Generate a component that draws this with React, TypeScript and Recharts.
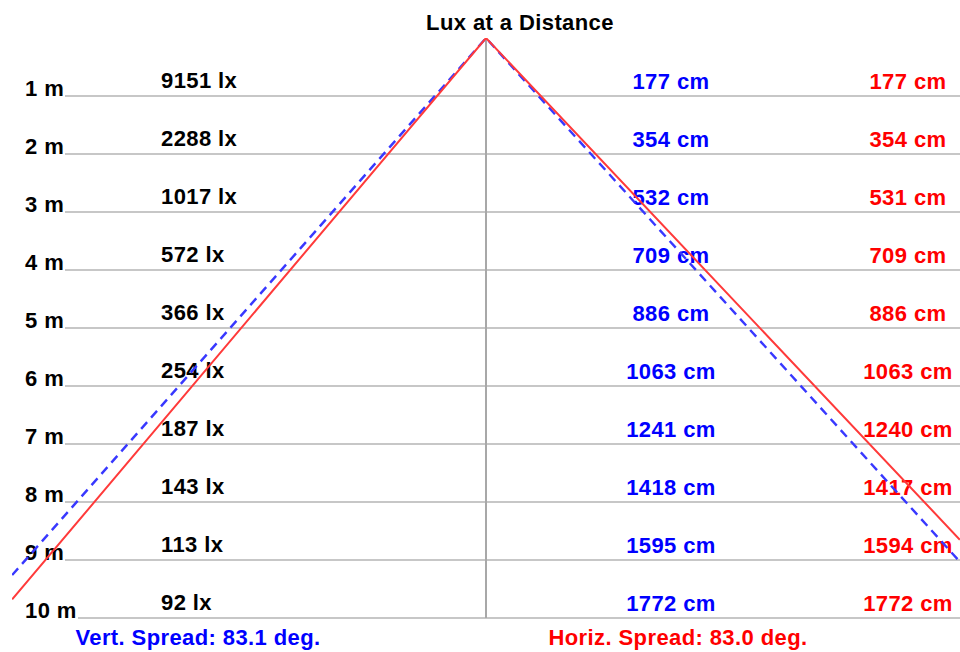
import { LineChart, Line, XAxis, YAxis, ReferenceLine, Customized } from 'recharts';

/* ------------------------------------------------------------------ */
/*  data                                          */
/* ------------------------------------------------------------------ */
const distances = [1, 2, 3, 4, 5, 6, 7, 8, 9, 10];
const distanceLabels = ['1 m', '2 m', '3 m', '4 m', '5 m', '6 m', '7 m', '8 m', '9 m', '10 m'];
const luxLabels = ['9151 lx', '2288 lx', '1017 lx', '572 lx', '366 lx', '254 lx', '187 lx', '143 lx', '113 lx', '92 lx'];
const vertWidths = ['177 cm', '354 cm', '532 cm', '709 cm', '886 cm', '1063 cm', '1241 cm', '1418 cm', '1595 cm', '1772 cm'];
const horizWidths = ['177 cm', '354 cm', '531 cm', '709 cm', '886 cm', '1063 cm', '1240 cm', '1417 cm', '1594 cm', '1772 cm'];
const vertSpread = '83.1';
const horizSpread = '83.0';

// beam edges: x = metres left/right of the axis, y = distance in metres
const horizBeam = [
  { x: -8.17, y: 9.68 },
  { x: 0, y: 0 },
  { x: 8.17, y: 8.65 },
];
const vertBeam = [
  { x: -8.17, y: 9.26 },
  { x: 0, y: 0 },
  { x: 8.17, y: 9.03 },
];

/* ------------------------------------------------------------------ */
/*  layout                                                             */
/* ------------------------------------------------------------------ */
const W = 960;
const H = 652;
const AXIS_X = 486;
const PX_PER_M = 58;
const HALF_SPAN = (AXIS_X - 12) / PX_PER_M;
const FONT = '"Liberation Sans", Arial, sans-serif';

const textStyle = {
  fontFamily: FONT,
  fontSize: 22,
  fontWeight: 700,
  letterSpacing: 0.4,
} as const;

const toData = (px: number) => (px - AXIS_X) / PX_PER_M;

function RowText({ viewBox, idx }: { viewBox?: any; idx: number }) {
  if (!viewBox) return null;
  const y = viewBox.y;
  return (
    <g>
      <text x={25} y={y} fill="#000" style={textStyle}>
        {distanceLabels[idx]}
      </text>
      <text x={161} y={y - 8} fill="#000" style={textStyle}>
        {luxLabels[idx]}
      </text>
      <text x={671} y={y - 7} fill="#0000ff" textAnchor="middle" style={textStyle}>
        {vertWidths[idx]}
      </text>
      <text x={908} y={y - 7} fill="#ff0000" textAnchor="middle" style={textStyle}>
        {horizWidths[idx]}
      </text>
    </g>
  );
}

function Captions() {
  return (
    <g>
      <text x={520} y={30} fill="#000" textAnchor="middle" style={textStyle}>
        Lux at a Distance
      </text>
      <text x={198} y={645} fill="#0000ff" textAnchor="middle" style={textStyle}>
        {`Vert. Spread: ${vertSpread} deg.`}
      </text>
      <text x={678} y={645} fill="#ff0000" textAnchor="middle" style={textStyle}>
        {`Horiz. Spread: ${horizSpread} deg.`}
      </text>
    </g>
  );
}

export default function App() {
  return (
    <div style={{ position: 'absolute', left: 0, top: 0, width: W, height: H, background: '#fff' }}>
      <LineChart width={W} height={H} margin={{ top: 38, right: 0, bottom: 34, left: 12 }}>
        <XAxis
          type="number"
          dataKey="x"
          domain={[-HALF_SPAN, HALF_SPAN]}
          allowDataOverflow
          hide
        />
        <YAxis type="number" dataKey="y" domain={[0, 10]} reversed allowDataOverflow hide />

        {distances.map((d, i) => (
          <ReferenceLine
            key={d}
            segment={[
              { x: toData(distanceLabels[i].length > 3 ? 78 : 65), y: d },
              { x: HALF_SPAN, y: d },
            ]}
            stroke="#b4b4b4"
            strokeWidth={1.6}
            label={(p: any) => <RowText viewBox={p.viewBox} idx={i} />}
          />
        ))}
        <ReferenceLine
          segment={[
            { x: 0, y: 0 },
            { x: 0, y: 10 },
          ]}
          stroke="#a8a8a8"
          strokeWidth={2}
        />

        <Line
          data={vertBeam}
          dataKey="y"
          type="linear"
          stroke="#3838ff"
          strokeWidth={2.4}
          strokeDasharray="9 6"
          dot={false}
          activeDot={false}
          isAnimationActive={false}
          zIndex={3000}
        />
        <Line
          data={horizBeam}
          dataKey="y"
          type="linear"
          stroke="#ff3a3a"
          strokeWidth={2}
          dot={false}
          activeDot={false}
          isAnimationActive={false}
          zIndex={3000}
        />
        <Customized component={Captions} />
      </LineChart>
    </div>
  );
}
